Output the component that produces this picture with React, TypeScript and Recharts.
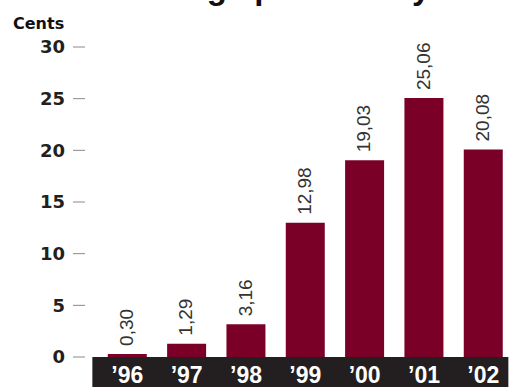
import { BarChart, Bar, XAxis, YAxis, LabelList } from 'recharts';

const years = ['’96', '’97', '’98', '’99', '’00', '’01', '’02'];
const cents = [0.3, 1.29, 3.16, 12.98, 19.03, 25.06, 20.08];
const yTicks = [0, 5, 10, 15, 20, 25, 30];

const title = 'Earnings per share year on year';
const unitLabel = 'Cents';

const data = years.map((year, i) => ({ year, cents: cents[i] }));

const BAR = '#7a0028';
const DARK = '#231f20';

function fmt(v: number) {
    return v.toFixed(2).replace('.', ',');
}

function YearTick(props: any) {
    const { x, y, payload, index } = props;
    return (
        <g>
            {/* dark strip under the year labels */}
            {index === 0 && <rect x={x - 35} y={y} width={416} height={30} fill={DARK} />}
            <text
                x={x}
                y={y + 26}
                textAnchor="middle"
                fill="#ffffff"
                style={{ fontFamily: '"Liberation Sans", Arial, sans-serif', fontWeight: 700, fontSize: 23 }}
            >
                {payload.value}
            </text>
        </g>
    );
}

function ValueLabel(props: any) {
    const { x, y, width, value } = props;
    const cx = x + width / 2;
    return (
        <text
            transform={`translate(${cx},${y - 8}) rotate(-90)`}
            dy="0.3em"
            textAnchor="start"
            fill="#333333"
            style={{ fontFamily: '"Liberation Sans", Arial, sans-serif', fontSize: 19 }}
        >
            {fmt(value)}
        </text>
    );
}

export default function App() {
    return (
        <div style={{ position: 'fixed', left: 0, top: 0, width: 516, height: 387, background: '#fff' }}>
            <BarChart
                width={516}
                height={387}
                data={data}
                margin={{ top: 47, right: 3, bottom: 0, left: 0 }}
                barCategoryGap="17%"
            >
                <XAxis
                    dataKey="year"
                    height={30}
                    padding={{ left: 12.7, right: 0 }}
                    axisLine={false}
                    tickLine={false}
                    tickSize={0}
                    tickMargin={0}
                    interval={0}
                    tick={<YearTick />}
                />
                <YAxis
                    width={85}
                    domain={[0, 30]}
                    ticks={yTicks}
                    interval={0}
                    axisLine={false}
                    tickSize={12}
                    tickMargin={8}
                    tickLine={{ stroke: '#8a8a8a', strokeWidth: 1 }}
                    tick={{ fill: DARK, fontSize: 18, fontWeight: 700, fontFamily: '"DejaVu Sans", sans-serif' }}
                />
                <Bar dataKey="cents" fill={BAR} isAnimationActive={false}>
                    <LabelList dataKey="cents" content={<ValueLabel />} />
                </Bar>
            </BarChart>
            <svg width={516} height={387} style={{ position: 'absolute', left: 0, top: 0, pointerEvents: 'none' }}>
                <text
                    x={104}
                    y={-1}
                    fill="#111111"
                    style={{ fontFamily: '"Liberation Sans", Arial, sans-serif', fontWeight: 700, fontSize: 33 }}
                >
                    {title}
                </text>
                <text
                    x={13}
                    y={29}
                    fill="#111111"
                    style={{ fontFamily: '"DejaVu Sans", sans-serif', fontWeight: 700, fontSize: 16 }}
                >
                    {unitLabel}
                </text>
            </svg>
        </div>
    );
}
